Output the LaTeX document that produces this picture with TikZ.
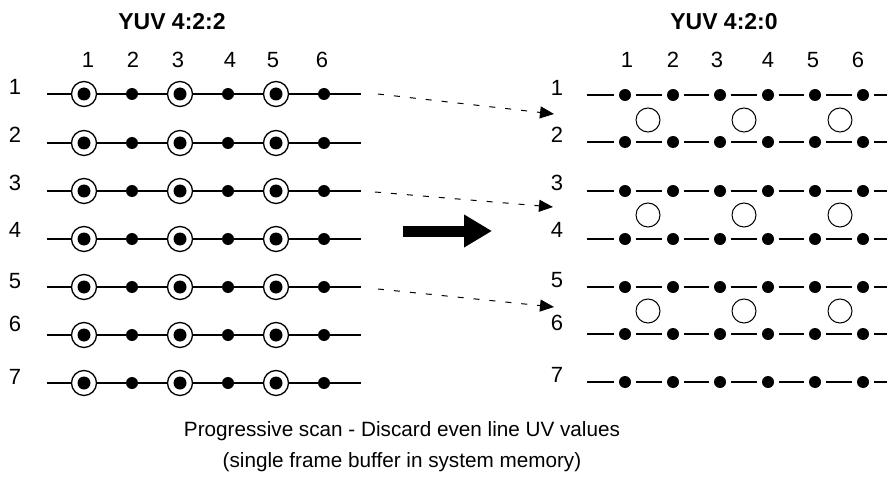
\documentclass[tikz,border=0pt]{standalone}
\usepackage{fontspec}
\setmainfont{Liberation Sans}
\usetikzlibrary{arrows.meta}
\begin{document}
\begin{tikzpicture}[x=1pt,y=-1pt,
  lbl/.style={font=\fontsize{22}{26}\selectfont, inner sep=0pt},
  captext/.style={font=\fontsize{20.7}{25}\selectfont, inner sep=0pt},
  ttl/.style={font=\fontsize{23}{27}\selectfont\bfseries, inner sep=0pt},
  dotnode/.style={circle, fill=black, minimum size=12pt, inner sep=0pt},
  gapdot/.style={dotnode, outer sep=5pt},
  ringnode/.style={circle, draw=black, fill=white, line width=1.3pt, minimum size=25pt, inner sep=0pt},
  opencirc/.style={circle, draw=black, fill=white, line width=1pt, minimum size=24pt, inner sep=0pt},
  rowline/.style={line width=2pt},
  dasharrow/.style={line width=1pt, dash pattern=on 6pt off 10pt, -{Triangle[length=14pt,width=12pt]}},
  bigarrow/.style={line width=11pt, -{Triangle[length=28pt,width=31pt]}},
]
\useasboundingbox (0,0) rectangle (896,481);

% titles
\node[ttl] (t1) at (172,22) {YUV 4:2:2};
\node[ttl] (t2) at (724,22) {YUV 4:2:0};

% column labels
\foreach \c/\x in {1/88,2/133,3/178,4/230,5/273,6/322} {\node[lbl] (Lcol\c) at (\x,60) {\c};}
\foreach \c/\x in {1/627,2/673,3/717,4/768,5/813,6/858} {\node[lbl] (Rcol\c) at (\x,60) {\c};}

% left panel (4:2:2)
\foreach \r/\y/\ly in {1/94/87,2/143/135,3/191/183,4/239/230,5/287/281,6/335/324,7/383/377} {
  \node[lbl] (Lrow\r) at (15,\ly) {\r};
  \coordinate (Ls\r) at (47,\y);
  \coordinate (Le\r) at (361,\y);
  \foreach \c/\x in {1/84,3/180,5/276} {
    \node[ringnode] (L\r c\c) at (\x,\y) {};
    \node[dotnode, minimum size=13pt] (Li\r c\c) at (\x,\y) {};
  }
  \foreach \c/\x in {2/132,4/228,6/324} {
    \node[dotnode] (L\r c\c) at (\x,\y) {};
  }
  \draw[rowline] (Ls\r) -- (L\r c1) -- (L\r c2) -- (L\r c3) -- (L\r c4) -- (L\r c5) -- (L\r c6) -- (Le\r);
}

% right panel (4:2:0)
\foreach \r/\y/\ly in {1/95/88,2/142/135,3/191/183,4/239/230,5/287/280,6/334/323,7/382/375} {
  \node[lbl] (Rrow\r) at (557,\ly) {\r};
  \coordinate (Rs\r) at (587,\y);
  \coordinate (Re\r) at (887,\y);
  \foreach \c/\x in {1/625,2/673,3/720,4/768,5/815,6/863} {
    \node[gapdot] (R\r c\c) at (\x,\y) {};
  }
  \draw[rowline] (Rs\r) -- (R\r c1) -- (R\r c2) -- (R\r c3) -- (R\r c4) -- (R\r c5) -- (R\r c6) -- (Re\r);
}

% open chroma circles
\foreach \p/\y in {1/120,2/215,3/311} {
  \foreach \i/\x in {1/648,2/744,3/840} {
    \node[opencirc] (O\p c\i) at (\x,\y) {};
  }
}

% dashed arrows
\coordinate (A1s) at (378,94);  \coordinate (A1e) at (554,114);
\coordinate (A2s) at (375,192); \coordinate (A2e) at (553,207);
\coordinate (A3s) at (378,289); \coordinate (A3e) at (554,307);
\draw[dasharrow] (A1s) -- (A1e);
\draw[dasharrow] (A2s) -- (A2e);
\draw[dasharrow] (A3s) -- (A3e);

% big arrow
\coordinate (B1) at (403,231);
\coordinate (B2) at (492,231);
\draw[bigarrow] (B1) -- (B2);

% caption
\node[captext] (cap1) at (402,431) {Progressive scan - Discard even line UV values};
\node[captext] (cap2) at (402,462) {(single frame buffer in system memory)};
\end{tikzpicture}
\end{document}
